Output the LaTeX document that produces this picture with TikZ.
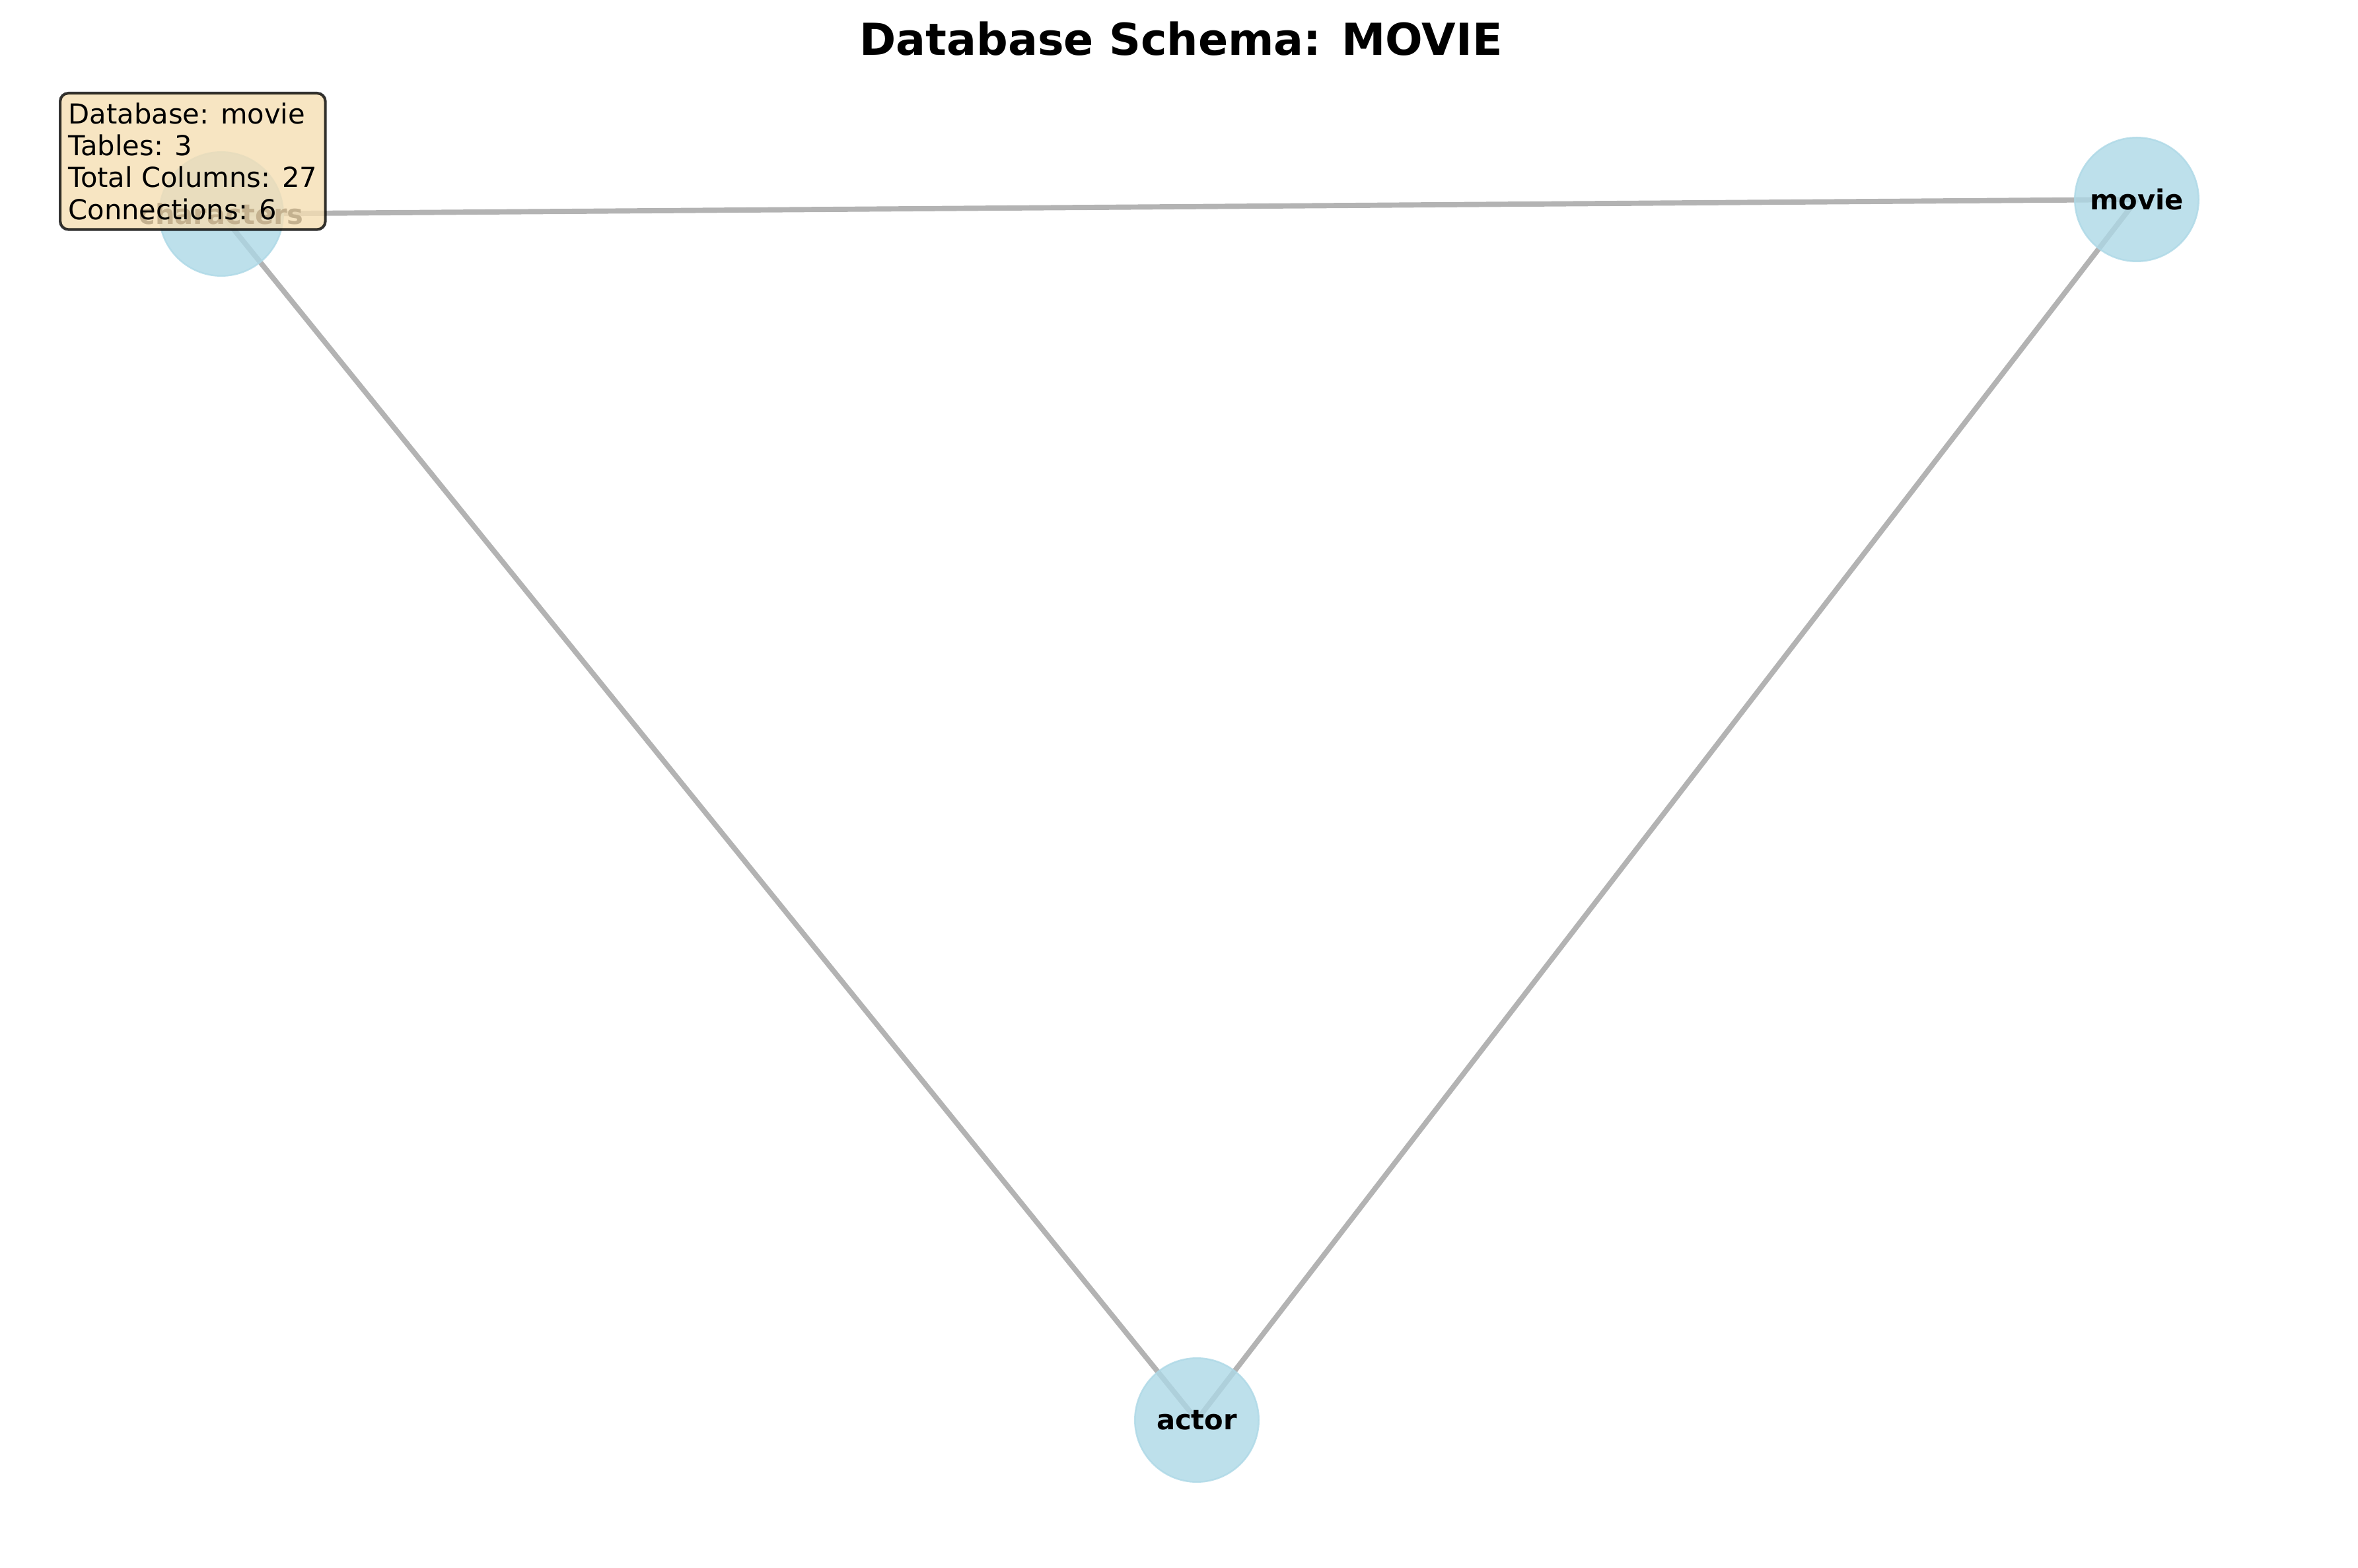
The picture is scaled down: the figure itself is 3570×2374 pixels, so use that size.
\documentclass[tikz,border=0pt]{standalone}
\usepackage{fontspec}
\setmainfont{DejaVu Sans}
\usetikzlibrary{backgrounds}
\definecolor{nodeblue}{HTML}{ADD8E6}
\definecolor{wheatc}{HTML}{F5DEB3}
\definecolor{edgegray}{HTML}{808080}
\begin{document}
\begin{tikzpicture}[x=0.24pt,y=-0.24pt,
  table/.style={circle, fill=nodeblue, draw=nodeblue, fill opacity=0.8, draw opacity=0.8,
    text opacity=1, line width=0.6pt, minimum size=45pt, inner sep=0pt,
    font=\fontsize{10}{12}\selectfont\bfseries},
  link/.style={draw=edgegray, draw opacity=0.6, line width=1.9pt},
  infobox/.style={rectangle, rounded corners=3pt, fill=wheatc, fill opacity=0.8,
    draw=black, draw opacity=0.8, text opacity=1, line width=1pt,
    inner xsep=3pt, inner ysep=3.5pt, align=left, anchor=north west,
    font=\fontsize{10}{11.6}\selectfont},
  titlestyle/.style={font=\fontsize{16}{19}\selectfont\bfseries, anchor=base}]
\useasboundingbox (0,0) rectangle (3570,2374);
\node[titlestyle] (title) at (1788,84) {Database Schema: MOVIE};
\node[table] (characters) at (335,324) {\makebox[0pt]{characters}};
\node[table] (movie) at (3235,302) {\makebox[0pt]{movie}};
\node[table] (actor) at (1812,2150) {\makebox[0pt]{actor}};
\begin{scope}[on background layer]
\draw[link] (characters.center) -- (movie.center);
\draw[link] (characters.center) -- (actor.center);
\draw[link] (movie.center) -- (actor.center);
\end{scope}
\node[infobox] (info) at (89,139) {Database: movie\\Tables: 3\\Total Columns: 27\\Connections: 6};
\end{tikzpicture}
\end{document}
